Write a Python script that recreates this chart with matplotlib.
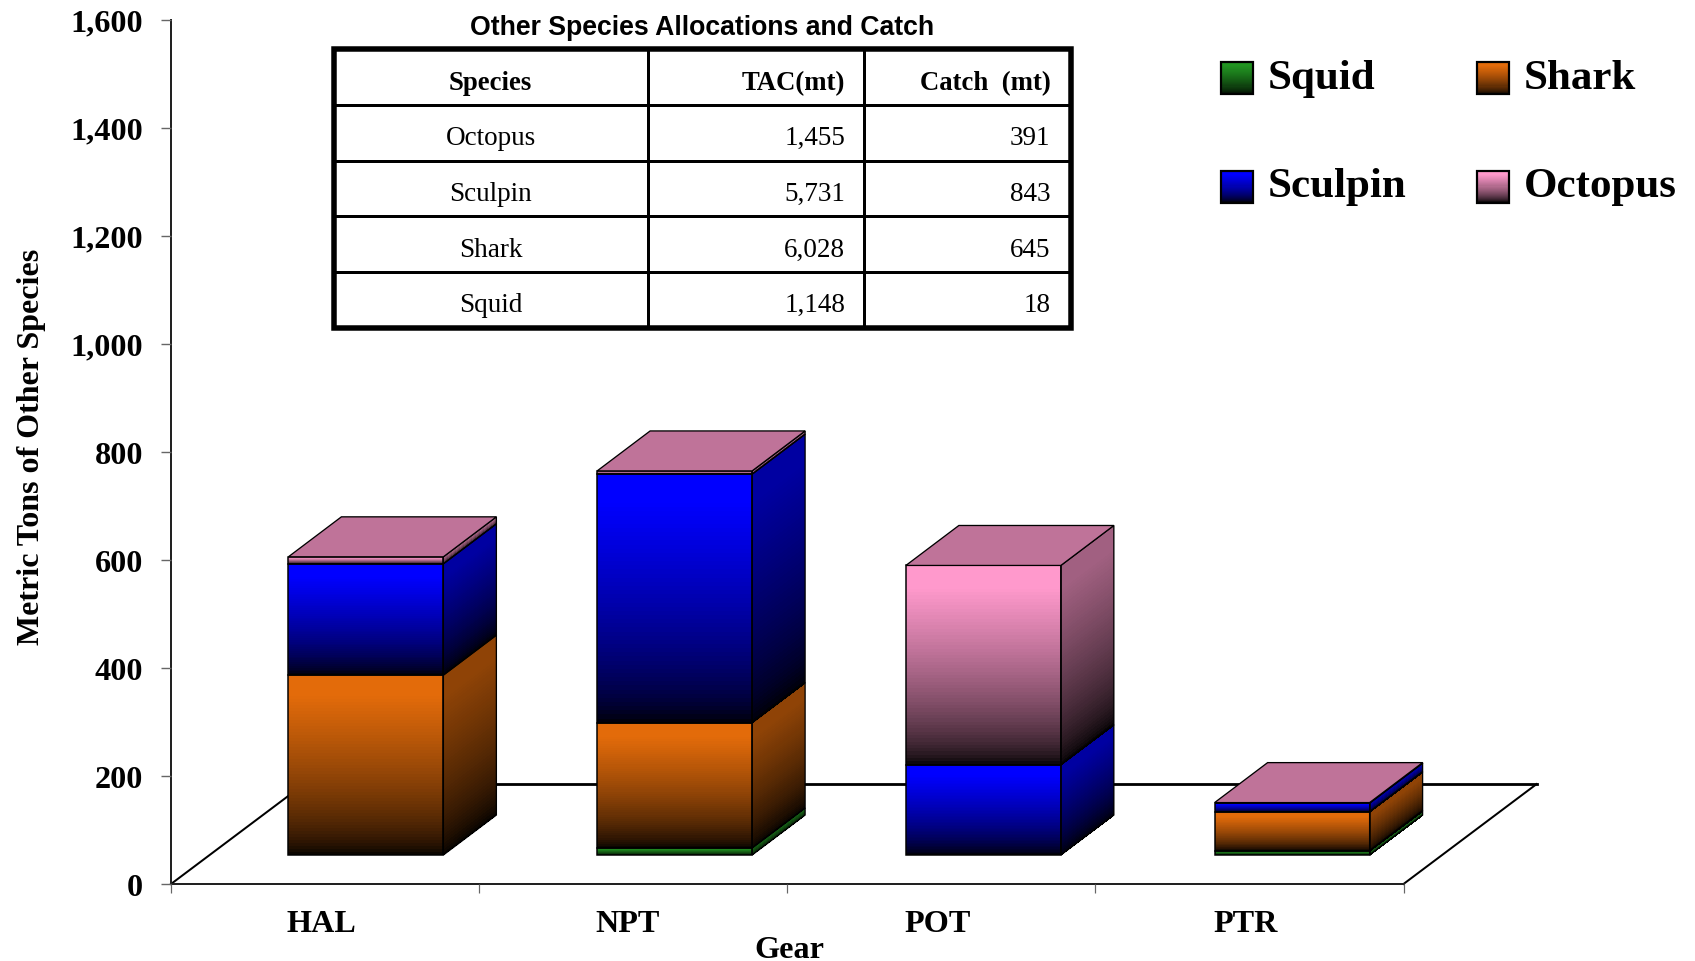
import numpy as np
import matplotlib
matplotlib.use("Agg")
import matplotlib.pyplot as plt
from matplotlib.patches import Polygon, Rectangle

# ---- data ----
gears = ["HAL", "NPT", "POT", "PTR"]
squid = [0, 13, 0, 8]
shark = [333, 232, 0, 72]
sculpin = [206, 460, 167, 16]
octopus = [13, 6, 369, 1]
y_ticks = [0, 200, 400, 600, 800, 1000, 1200, 1400, 1600]
table_species = ["Octopus", "Sculpin", "Shark", "Squid"]
table_tac = ["1,455", "5,731", "6,028", "1,148"]
table_catch = ["391", "843", "645", "18"]

# ---- styles ----
W, H = 1695, 962
SERIF = "Liberation Serif"
SANS = "Liberation Sans"
C_SQUID = (0.13, 0.58, 0.13)
C_SHARK = (0.89, 0.42, 0.04)
C_SCULPIN = (0.0, 0.0, 1.0)
C_OCTOPUS = (1.0, 0.60, 0.80)
series = [(squid, C_SQUID), (shark, C_SHARK), (sculpin, C_SCULPIN), (octopus, C_OCTOPUS)]
px = 72 / 100  # one pixel, in points
GAMMA = 0.65
PLATEAU = 1.08

fig = plt.figure(figsize=(W / 100, H / 100), dpi=100, facecolor="white")
ax = fig.add_axes([171 / W, 1 - 885 / H, (1403.5 - 171) / W, (885 - 20.7) / H])
ax.set_xlim(0, 4)
ax.set_ylim(0, 1600)
ax.patch.set_visible(False)
for s in ("top", "right"):
    ax.spines[s].set_visible(False)
for s in ("left", "bottom"):
    ax.spines[s].set_linewidth(2.0 * px)
    ax.spines[s].set_color("#222222")
    ax.spines[s].set_zorder(1)

# depth geometry, in category units / value units
FLOOR_DX, FLOOR_DY = 0.432, 185.0
BAR_STEP, BAR_LEFT, BAR_W = 1.002, 0.381, 0.503
BASE = 53.7
DEPTH_X, DEPTH_Y = 0.172, 74.0
SIDE_SHADE, TOP_SHADE = 0.63, 0.75

# floor
ax.plot([0, FLOOR_DX], [0, FLOOR_DY], color="black", lw=2.0 * px, clip_on=False, zorder=1)
ax.plot([FLOOR_DX, 4 + FLOOR_DX], [FLOOR_DY, FLOOR_DY], color="black", lw=2.8 * px, clip_on=False, zorder=1)
ax.plot([4, 4 + FLOOR_DX], [0, FLOOR_DY], color="black", lw=2.0 * px, clip_on=False, zorder=1)


def shade_ramp(n):
    t = ((np.arange(n) + 0.5) / n) ** GAMMA
    return np.minimum(1.0, t * PLATEAU)


def grad(a, x0, x1, y0, y1, skew_y, color, shade, z):
    """Vertical gradient from black (y0) to shade*color (y1) on a skewed quad."""
    n = 60
    ys = np.linspace(y0, y1, n + 1)
    X = np.column_stack([np.full(n + 1, x0), np.full(n + 1, x1)])
    Y = np.column_stack([ys, ys + skew_y])
    C = (np.outer(shade_ramp(n), color) * shade)[:, None, :]
    return a.pcolormesh(X, Y, C, shading="flat", zorder=z, clip_on=False, antialiased=False, linewidth=0)


z = 3
for i in range(len(gears)):
    left = i * BAR_STEP + BAR_LEFT
    right = left + BAR_W
    bottom = BASE
    for values, col in series:
        v = values[i]
        if v <= 0:
            continue
        top = bottom + v
        # right-hand side face
        grad(ax, right, right + DEPTH_X, bottom, top, DEPTH_Y, col, SIDE_SHADE, z)
        ax.add_patch(Polygon([(right, bottom), (right + DEPTH_X, bottom + DEPTH_Y),
                              (right + DEPTH_X, top + DEPTH_Y), (right, top)],
                             closed=True, fill=False, ec="black", lw=1.3 * px, zorder=z + 0.5, clip_on=False))
        # front face
        grad(ax, left, right, bottom, top, 0, col, 1.0, z)
        ax.add_patch(Rectangle((left, bottom), BAR_W, v, fill=False, ec="black", lw=1.5 * px,
                               zorder=z + 0.5, clip_on=False))
        bottom = top
    # top cap, always in the colour of the last series
    ax.add_patch(Polygon([(left, bottom), (right, bottom), (right + DEPTH_X, bottom + DEPTH_Y),
                          (left + DEPTH_X, bottom + DEPTH_Y)], closed=True,
                         fc=tuple(c * TOP_SHADE for c in C_OCTOPUS), ec="black", lw=1.3 * px,
                         zorder=z + 0.6, clip_on=False))

# axes: ticks and labels
ax.set_yticks(y_ticks)
ax.set_yticklabels([f"{v:,}" for v in y_ticks], fontfamily=SERIF, fontweight="bold", fontsize=23.2)
ax.tick_params(axis="y", length=10 * px, width=1.4 * px, color="#666666", pad=18 * px)
ax.set_xticks(range(5))
ax.set_xticklabels([])
ax.tick_params(axis="x", which="major", length=8.5 * px, width=1.2 * px, color="#666666")
ax.set_xticks([i * BAR_STEP + BAR_LEFT - 0.005 for i in range(len(gears))], minor=True)
ax.set_xticklabels(gears, minor=True, fontfamily=SERIF, fontweight="bold", fontsize=23.2, ha="left")
ax.tick_params(axis="x", which="minor", length=0, pad=25 * px)
ax.set_xlabel("Gear", fontfamily=SERIF, fontweight="bold", fontsize=23.2, labelpad=0)
ax.xaxis.set_label_coords((789.5 - 171) / (1403.5 - 171), -(958 - 885) / (885 - 20.7), transform=ax.transAxes)
ax.xaxis.label.set_verticalalignment("baseline")
ax.set_ylabel("Metric Tons of Other Species", fontfamily=SERIF, fontweight="bold", fontsize=23)
ax.yaxis.set_label_coords((31.5 - 171) / (1403.5 - 171), (885 - 447) / (885 - 20.7), transform=ax.transAxes)
ax.yaxis.label.set_verticalalignment("center")

# overlay in pixel coordinates for the inset table and legend
ov = fig.add_axes([0, 0, 1, 1], zorder=10)
ov.set_xlim(0, W)
ov.set_ylim(H, 0)
ov.axis("off")

# legend
legend_items = [("Squid", C_SQUID, 1221, 63, 89), ("Shark", C_SHARK, 1477, 63, 89),
                ("Sculpin", C_SCULPIN, 1221, 171.5, 197), ("Octopus", C_OCTOPUS, 1477, 171.5, 197)]
for name, col, x, y, base in legend_items:
    n = 30
    ys = np.linspace(y + 32, y, n + 1)
    X = np.column_stack([np.full(n + 1, x), np.full(n + 1, x + 32)])
    Y = np.column_stack([ys, ys])
    ov.pcolormesh(X, Y, np.outer(shade_ramp(n), col)[:, None, :], shading="flat", antialiased=False, linewidth=0)
    ov.add_patch(Rectangle((x, y), 32, 32, fill=False, ec="black", lw=2.2 * px))
    ov.text(x + 47, base, name, fontfamily=SERIF, fontweight="bold", fontsize=31, va="baseline", ha="left")

# inset table
ov.text(702, 35, "Other Species Allocations and Catch", fontfamily=SANS, fontweight="bold",
        fontsize=19.2, ha="center", va="baseline")
ov.add_patch(Rectangle((334, 50), 737, 278.5, fill=False, ec="black", lw=5.5 * px))
for lx in (647.5, 864):
    ov.plot([lx, lx], [50, 328], color="black", lw=3.0 * px)
for ly in (105.5, 161.5, 217, 272.5):
    ov.plot([334, 1071], [ly, ly], color="black", lw=3.0 * px)
CX, RX1, RX2 = 490.6, 845, 1050.5
kw = dict(fontfamily=SERIF, fontsize=19.5, va="baseline")
ov.text(CX, 90, "Species", ha="center", fontweight="bold", fontfamily=SERIF, fontsize=19.3, va="baseline")
ov.text(RX1, 90, "TAC(mt)", ha="right", fontweight="bold", fontfamily=SERIF, fontsize=19.3, va="baseline")
ov.text(RX2, 90, "Catch  (mt)", ha="right", fontweight="bold", fontfamily=SERIF, fontsize=19.3, va="baseline")
for base, sp, tac, cat in zip((145, 200.7, 256.7, 311.7), table_species, table_tac, table_catch):
    ov.text(CX, base, sp, ha="center", **kw)
    ov.text(RX1, base, tac, ha="right", **kw)
    ov.text(RX2, base, cat, ha="right", **kw)

fig.savefig("out.png", dpi=100, facecolor="white")
